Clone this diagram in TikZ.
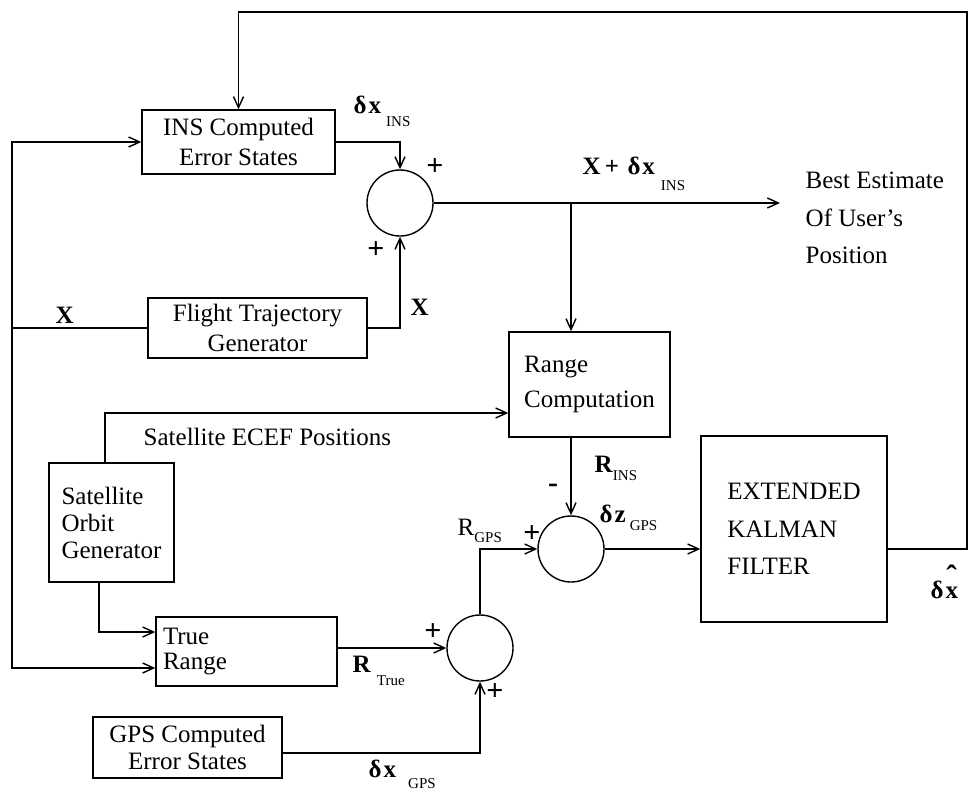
\documentclass[tikz,border=0pt]{standalone}
\usepackage{fontspec}
\setmainfont{Liberation Serif}
\usetikzlibrary{positioning,arrows.meta}
\newcommand{\sbs}[1]{{\fontsize{7.5}{7.5}\selectfont #1}}

\begin{document}
\begin{tikzpicture}[
  x=0.5pt, y=-0.5pt,
  >={Straight Barb[length=5.5pt,width=5pt]},
  line width=0.7pt,
  every node/.style={font=\fontsize{12.5}{15}\selectfont},
  box/.style={draw,inner sep=0pt,align=center},
  lbox/.style={draw,inner sep=0pt,align=left},
  sum/.style={draw,circle,minimum size=33pt,inner sep=0pt},
  lbl/.style={inner sep=0pt,anchor=base west},
  pls/.style={inner sep=0pt,font=\fontsize{15}{15}\selectfont\bfseries},
  arrow/.style={->}
]
\useasboundingbox (0,0) rectangle (972,792);

\node[box,minimum width=96.5pt,minimum height=32pt] (ins) at (238.5,142) {INS Computed\\Error States};
\node[box,minimum width=109.5pt,minimum height=30pt] (ftg) at (257.5,328) {Flight Trajectory\\Generator};
\node[lbox,minimum width=80.5pt,minimum height=52.5pt,font=\fontsize{12.5}{17.5}\selectfont] (rng) at (589.5,384.5) {Range\\Computation};
\node[lbox,minimum width=93pt,minimum height=93pt,font=\fontsize{12.5}{18.75}\selectfont] (ekf) at (794,529) {EXTENDED\\KALMAN\\FILTER};
\node[lbox,minimum width=62.5pt,minimum height=59.5pt,font=\fontsize{12.5}{13.5}\selectfont] (sog) at (111.5,522.5) {Satellite\\Orbit\\Generator};
\node[lbox,minimum width=90.5pt,minimum height=34.5pt,text width=83.5pt,inner xsep=3.5pt,font=\fontsize{12.5}{12.5}\selectfont] (tr) at (246.5,651.5) {True\\Range};
\node[box,minimum width=94.5pt,minimum height=30.5pt,font=\fontsize{12.5}{13.5}\selectfont] (gps) at (187.5,747.5) {GPS Computed\\Error States};

\node[sum] (s1) at (400,203) {};
\node[sum] (s2) at (571,549) {};
\node[sum] (s3) at (480,648) {};

\node[inner xsep=12.5pt,inner ysep=0pt,align=left,anchor=west,font=\fontsize{12.5}{18.75}\selectfont] (best) at (780,218) {Best Estimate\\Of User's\\Position};

\coordinate (bus) at (12,328);
\coordinate (tap) at (571,203);
\coordinate (fb) at (967,12);

\draw[arrow] (s2 -| ekf.east) -| (fb) -| (ins.north);
\draw (ftg.west) -- (bus);
\draw[arrow] (bus) |- (ins.west);
\draw[arrow] (bus) |- ([yshift=-8.25pt]tr.west);
\draw[arrow] (ins.east) -| (s1.north);
\draw[arrow] (ftg.east) -| (s1.south);
\draw[arrow] (s1.east) -- (s1.east -| best.west);
\draw[arrow] (tap) -- (tap |- rng.north);
\draw[arrow] ([xshift=-3.25pt]sog.north) |- ([yshift=-14.25pt]rng.west);
\draw[arrow] ([xshift=-6.25pt]sog.south) |- ([yshift=9.75pt]tr.west);
\draw[arrow] (tr.east |- s3) -- (s3.west);
\draw[arrow] ([yshift=-2.75pt]gps.east) -| (s3.south);
\draw[arrow] (s3.north) |- (s2.west);
\draw[arrow] (s2.north |- rng.south) -- (s2.north);
\draw[arrow] (s2.east) -- (s2.east -| ekf.west);

\node[lbl] (dxins) at (353,113) {\textbf{δ\kern1pt x}\hspace{2.5pt}\raisebox{-6.5pt}{\sbs{INS}}};
\node[lbl] (xsum) at (582,174) {\textbf{X\,+\,\,δ\kern1pt x}\hspace{3pt}\raisebox{-8pt}{\sbs{INS}}};
\node[lbl] (xl) at (55,323) {\textbf{X}};
\node[lbl] (xr) at (410,315) {\textbf{X}};
\node[lbl] (ecef) at (143,445) {Satellite ECEF Positions};
\node[lbl] (rtrue) at (352,672) {\textbf{R}\hspace{3pt}\raisebox{-6.5pt}{\sbs{True}}};
\node[lbl] (dxgps) at (368,777) {\textbf{δ\kern1pt x}\hspace{6pt}\raisebox{-5.5pt}{\sbs{GPS}}};
\node[lbl] (rgps) at (457,535) {R\raisebox{-3.5pt}{\sbs{GPS}}};
\node[lbl] (rins) at (594,472) {\textbf{R}\raisebox{-4pt}{\sbs{INS}}};
\node[lbl] (dzgps) at (599,522) {\textbf{δ\kern1pt z}\hspace{2pt}\raisebox{-4pt}{\sbs{GPS}}};
\node[lbl] (dxhat) at (930,598) {\textbf{δ\kern1pt x}\llap{\raisebox{5.5pt}{\fontsize{16}{16}\selectfont\textbf{ˆ}}\kern0.6pt}};

\node[pls] (p1) at (435,167) {+};
\node[pls] (p2) at (376,250) {+};
\node[pls] (p3) at (433,632) {+};
\node[pls] (p4) at (495,692) {+};
\node[pls] (p5) at (532,534) {+};
\node[pls] (m1) at (553,488) {-};
\end{tikzpicture}
\end{document}
